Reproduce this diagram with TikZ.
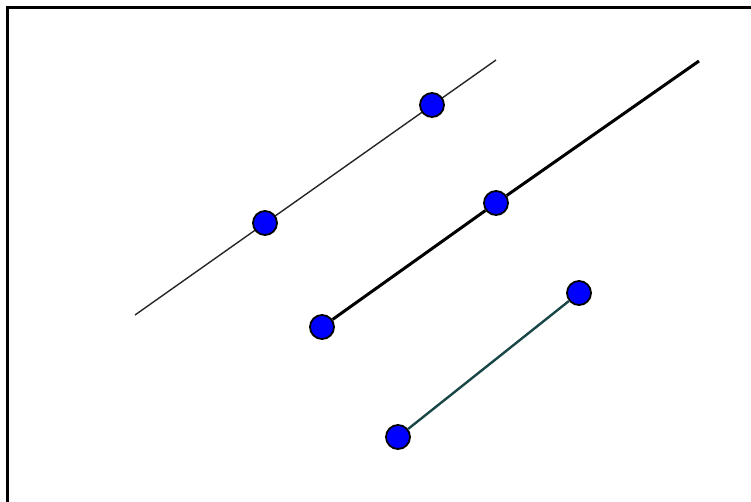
\documentclass[tikz,border=0pt]{standalone}
\definecolor{ptblue}{RGB}{0,0,255}
\definecolor{segteal}{RGB}{25,70,70}
\begin{document}
\begin{tikzpicture}[x=1pt,y=-1pt,
  pt/.style={circle,fill=ptblue,draw=black,line width=1.8pt,minimum size=24pt,inner sep=0pt},
  thinline/.style={line width=1.4pt,black!85},
  rayline/.style={line width=3pt,black},
  segline/.style={line width=2.4pt,segteal}]
\useasboundingbox (0,0) rectangle (751,502);
\draw[line width=3pt] (7.5,502) -- (7.5,7.5) -- (751,7.5);
% line
\coordinate (L0) at (135,315);
\coordinate (L1) at (496,60);
\draw[thinline] (L0) -- (L1);
\node[pt] (A) at (265,223) {};
\node[pt] (B) at (432,105) {};
% ray
\coordinate (R1) at (699,61);
\node[pt] (C) at (322,327) {};
\node[pt] (D) at (496,203) {};
\draw[rayline] (C) -- (D) -- (R1);
% segment
\node[pt] (E) at (398,437) {};
\node[pt] (F) at (579,293) {};
\draw[segline] (E) -- (F);
\end{tikzpicture}
\end{document}
